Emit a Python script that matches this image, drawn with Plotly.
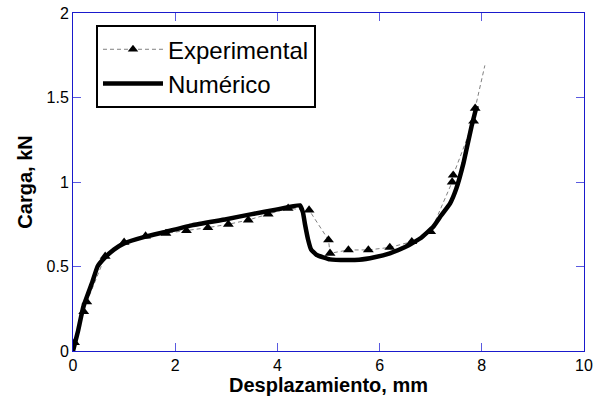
import plotly.graph_objects as go

# Experimental series (displacement mm, load kN)
exp_x = [0.03, 0.21, 0.27, 0.63, 1.00, 1.42, 1.82, 2.22, 2.64, 3.04, 3.43, 3.82, 4.21,
         4.62, 5.00, 5.03, 5.39, 5.78, 6.20, 6.63, 7.00, 7.42, 7.44, 7.84, 7.87, 8.06]
exp_y = [0.05, 0.233, 0.29, 0.56, 0.643, 0.68, 0.696, 0.712, 0.73, 0.75, 0.775, 0.81, 0.844,
         0.834, 0.657, 0.578, 0.598, 0.598, 0.613, 0.647, 0.706, 1.00, 1.04, 1.36, 1.436, 1.69]

# Numerical series
num_x = [0.0, 0.10, 0.20, 0.38, 0.48, 0.60, 0.80, 1.00, 1.40, 1.82, 2.34, 3.00, 3.50, 4.00,
         4.44, 4.50, 4.54, 4.60, 4.66, 4.77, 5.03, 5.36, 5.60, 5.90, 6.20, 6.50, 6.80, 7.05,
         7.20, 7.38, 7.50, 7.64, 7.80, 7.90]
num_y = [0.0, 0.12, 0.26, 0.41, 0.50, 0.545, 0.60, 0.637, 0.675, 0.706, 0.745, 0.78, 0.81, 0.838,
         0.862, 0.82, 0.75, 0.66, 0.60, 0.568, 0.542, 0.538, 0.54, 0.555, 0.578, 0.615, 0.667, 0.735,
         0.80, 0.874, 0.96, 1.11, 1.33, 1.45]

x_ticks = [0, 2, 4, 6, 8, 10]
y_ticks = [0, 0.5, 1, 1.5, 2]
y_tick_text = ["0", "0.5", "1", "1.5", "2"]

marker_sizes = [9.5] * (len(exp_x) - 1) + [0]

FONT = "Liberation Sans, Arial, sans-serif"

fig = go.Figure()
fig.add_trace(go.Scatter(
    x=exp_x, y=exp_y, name="Experimental", mode="lines+markers",
    line=dict(color="#808080", width=1, dash="4px,3px"),
    marker=dict(symbol="triangle-up", color="#000000", size=marker_sizes, opacity=1,
                line=dict(color="#000000", width=0)),
))
fig.add_trace(go.Scatter(
    x=num_x, y=num_y, name="Numérico", mode="lines",
    line=dict(color="black", width=4.5, shape="spline", smoothing=0.3),
))

axis_common = dict(
    showline=True, linecolor="#1a1acc", linewidth=1, mirror="ticks",
    ticks="inside", ticklen=8, tickcolor="#5a5ae0", tickwidth=1,
    showgrid=False, zeroline=False, automargin=False,
    ticklabeloverflow="allow",
    tickfont=dict(family=FONT, size=16, color="black"),
)

fig.update_layout(
    width=603, height=409,
    margin=dict(l=73, r=19, t=13, b=58, autoexpand=False),
    paper_bgcolor="white", plot_bgcolor="white",
    font=dict(family=FONT, color="black"),
    xaxis=dict(range=[0, 10], tickvals=x_ticks,
               title=dict(text="<b>Desplazamiento, mm</b>", font=dict(size=20), standoff=4),
               **axis_common),
    yaxis=dict(range=[0, 2], tickvals=y_ticks, ticktext=y_tick_text,
               title=dict(text="<b>Carga, kN</b>", font=dict(size=20), standoff=8),
               **axis_common),
    legend=dict(x=0.045, y=0.964, xanchor="left", yanchor="top",
                bgcolor="white", bordercolor="black", borderwidth=2,
                font=dict(size=24, family=FONT),
                tracegroupgap=0, itemwidth=60),
    showlegend=True,
)

fig.write_html("out.html", config={"displayModeBar": False},
               post_script="document.body.style.margin='0px';")
